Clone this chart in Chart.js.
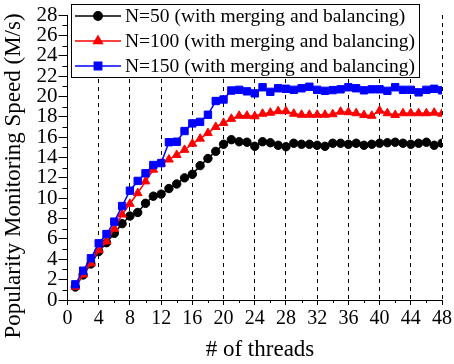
<!DOCTYPE html>
<html>
<head>
<meta charset="utf-8">
<script src="https://cdn.jsdelivr.net/npm/chart.js@4.4.1/dist/chart.umd.min.js"></script>
<style>
  html, body { margin: 0; padding: 0; background: #fff; }
  canvas { display: block; }
</style>
</head>
<body>
<canvas id="speedChart" width="454" height="364"></canvas>
<script>
// thread counts on the x axis
const threads = [1, 2, 3, 4, 5, 6, 7, 8, 9, 10, 11, 12, 13, 14, 15, 16,
    17, 18, 19, 20, 21, 22, 23, 24, 25, 26, 27, 28, 29, 30, 31, 32,
    33, 34, 35, 36, 37, 38, 39, 40, 41, 42, 43, 44, 45, 46, 47, 48];

// monitoring speed (M/s) per series
const speedN50 = [1.28, 2.46, 3.54, 4.75, 5.63, 6.55, 7.5, 8.25, 8.6, 9.5, 10.2, 10.4, 10.95, 11.4, 12.0, 12.35,
    13.2, 13.9, 14.6, 15.3, 15.75, 15.55, 15.5, 15.1, 15.55, 15.45, 15.2, 15.06, 15.4, 15.3, 15.3, 15.2,
    15.1, 15.4, 15.4, 15.3, 15.4, 15.2, 15.3, 15.4, 15.45, 15.5, 15.4, 15.3, 15.4, 15.5, 15.2, 15.4];
const speedN100 = [1.3, 2.5, 3.6, 4.9, 5.75, 7.0, 8.4, 9.45, 10.5, 11.65, 12.8, 13.4, 13.8, 14.25, 14.75, 15.35,
    15.85, 16.4, 17.0, 17.4, 17.8, 18.1, 18.1, 18.05, 18.3, 18.4, 18.55, 18.55, 18.3, 18.2, 18.2, 18.2,
    18.2, 18.25, 18.5, 18.45, 18.35, 18.17, 18.1, 18.6, 18.35, 18.17, 18.35, 18.35, 18.35, 18.35, 18.4, 18.3];
const speedN150 = [1.54, 2.88, 4.1, 5.57, 6.48, 7.7, 9.23, 10.74, 11.7, 12.45, 13.26, 13.45, 15.5, 15.55, 16.6, 17.35,
    17.5, 18.2, 19.55, 19.7, 20.58, 20.65, 20.5, 20.3, 20.9, 20.45, 20.8, 20.75, 20.65, 20.8, 20.95, 20.65,
    20.55, 20.62, 20.7, 20.9, 20.8, 20.6, 20.7, 20.7, 20.55, 20.9, 20.65, 20.65, 20.4, 20.65, 20.75, 20.6];

const seriesLabels = [
    'N=50 (with merging and balancing)',
    'N=100 (with merging and balancing)',
    'N=150 (with merging and balancing)'
];

const SERIF = '"Liberation Serif", "Times New Roman", serif';

function toPoints(values) {
    return threads.map((t, i) => ({ x: t, y: values[i] }));
}

// minor ticks, axis titles and the boxed legend
const extrasPlugin = {
    id: 'extras',
    afterDraw(chart) {
        const ctx = chart.ctx;
        const xs = chart.scales.x;
        const ys = chart.scales.y;
        const area = chart.chartArea;

        ctx.save();
        ctx.strokeStyle = '#000';
        ctx.lineWidth = 1;
        ctx.beginPath();
        // x minor ticks at every 2 threads
        for (let v = 2; v < 48; v += 4) {
            const px = Math.round(xs.getPixelForValue(v)) + 0.5;
            ctx.moveTo(px, area.bottom);
            ctx.lineTo(px, area.bottom + 3);
        }
        // y minor ticks at odd values
        for (let v = 1; v < 28; v += 2) {
            const py = Math.round(ys.getPixelForValue(v)) + 0.5;
            ctx.moveTo(area.left, py);
            ctx.lineTo(area.left - 5, py);
        }
        ctx.stroke();

        // axis titles
        ctx.fillStyle = '#000';
        ctx.textAlign = 'center';
        ctx.textBaseline = 'middle';
        ctx.font = '23px ' + SERIF;
        ctx.fillText('# of threads', 260, 350);
        ctx.save();
        ctx.translate(14, 176);
        ctx.rotate(-Math.PI / 2);
        ctx.fillText('Popularity Monitoring Speed (M/s)', 0, 0);
        ctx.restore();

        // legend box
        const box = { left: 71.5, top: 4.5, right: 419.5, bottom: 77.5 };
        ctx.fillStyle = '#fff';
        ctx.fillRect(box.left, box.top, box.right - box.left, box.bottom - box.top);
        ctx.strokeRect(box.left, box.top, box.right - box.left, box.bottom - box.top);

        const rows = [16, 41, 66];
        chart.data.datasets.forEach((ds, i) => {
            const y = rows[i];
            ctx.strokeStyle = ds.borderColor;
            ctx.lineWidth = 1.5;
            ctx.beginPath();
            ctx.moveTo(75, y);
            ctx.lineTo(121, y);
            ctx.stroke();
            Chart.helpers.drawPoint(ctx, {
                pointStyle: ds.pointStyle,
                radius: ds.pointRadius,
                borderWidth: 1
            }, 98, y);
            ctx.fillStyle = ds.pointBackgroundColor;
            ctx.fill();
            ctx.fillStyle = '#000';
            ctx.textAlign = 'left';
            ctx.font = '19.5px ' + SERIF;
            ctx.fillText(ds.label, 125, y + 1);
        });
        ctx.restore();
    }
};

function makeSeries(label, values, color, style, radius, order) {
    return {
        label: label,
        data: toPoints(values),
        borderColor: color,
        backgroundColor: color,
        pointBackgroundColor: color,
        pointBorderColor: color,
        pointStyle: style,
        pointRadius: radius,
        pointBorderWidth: 1,
        borderWidth: 1.5,
        tension: 0,
        order: order
    };
}

new Chart(document.getElementById('speedChart'), {
    type: 'line',
    data: {
        datasets: [
            makeSeries(seriesLabels[0], speedN50, '#000000', 'circle', 4.2, 3),
            makeSeries(seriesLabels[1], speedN100, '#ff0000', 'triangle', 5, 2),
            makeSeries(seriesLabels[2], speedN150, '#0000ff', 'rect', 5.2, 1)
        ]
    },
    options: {
        responsive: false,
        animation: false,
        layout: { padding: { top: 15, right: 10, left: 0, bottom: 0 } },
        plugins: {
            legend: { display: false },
            tooltip: { enabled: false }
        },
        scales: {
            x: {
                type: 'linear',
                min: 0,
                max: 48,
                afterFit: (scale) => { scale.height = 64; },
                ticks: {
                    stepSize: 4,
                    autoSkip: false,
                    color: '#000',
                    font: { family: SERIF, size: 20 },
                    padding: 2,
                    maxRotation: 0
                },
                grid: {
                    color: (c) => (c.tick && c.tick.value === 0 ? 'rgba(0,0,0,0)' : '#000'),
                    tickColor: '#000',
                    lineWidth: 1,
                    tickBorderDash: [],
                    tickLength: 5,
                    drawTicks: true
                },
                border: { display: true, color: '#000', width: 1, dash: [4, 4] }
            },
            y: {
                min: 0,
                max: 28,
                afterFit: (scale) => { scale.width = 67.5; },
                ticks: {
                    stepSize: 2,
                    autoSkip: false,
                    color: '#000',
                    font: { family: SERIF, size: 21 },
                    padding: 1
                },
                grid: {
                    drawOnChartArea: false,
                    tickColor: '#000',
                    tickLength: 9
                },
                border: { display: true, color: '#000', width: 1 }
            }
        }
    },
    plugins: [extrasPlugin]
});
</script>
</body>
</html>
